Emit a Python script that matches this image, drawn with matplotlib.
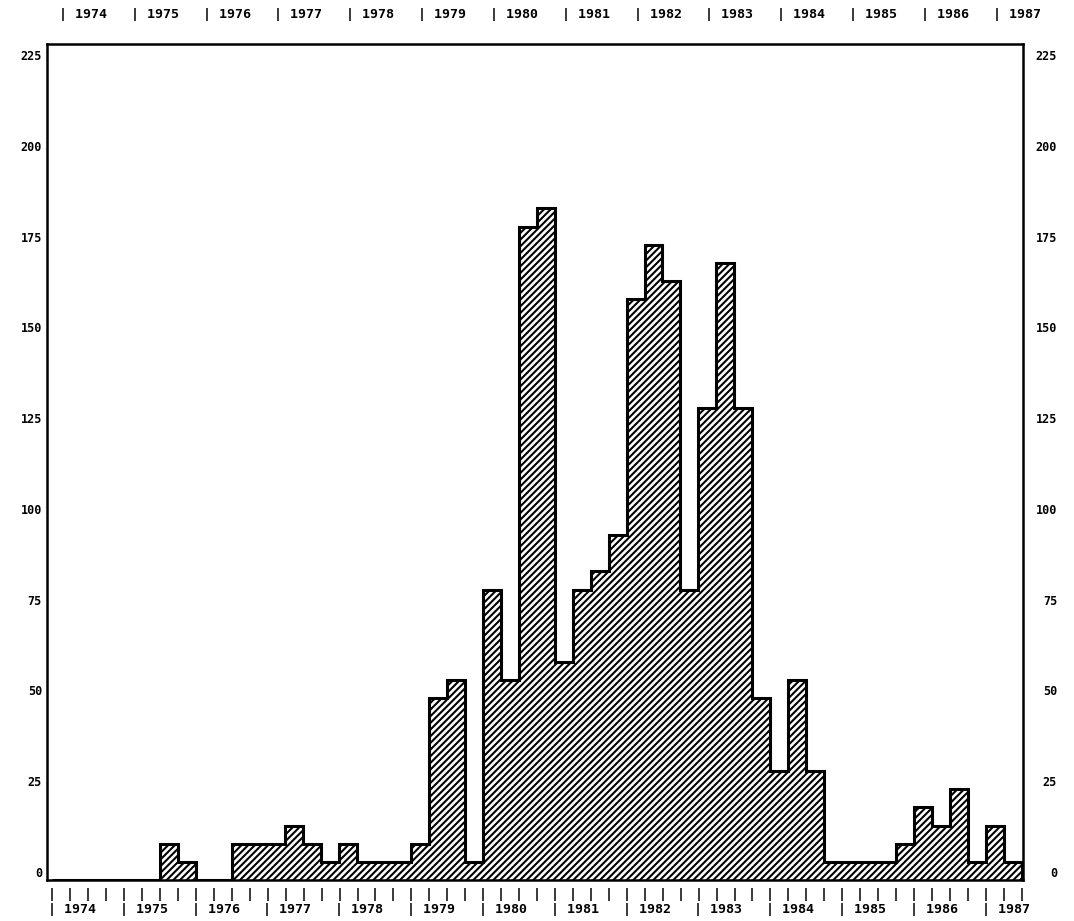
import numpy as np
import matplotlib
matplotlib.use("Agg")
import matplotlib.pyplot as plt
from matplotlib.transforms import ScaledTranslation

# Quarterly counts, 1974 Q1 through 1987 Q2
counts = [0, 0, 0, 0,          # 1974
          0, 0, 10, 5,         # 1975
          0, 0, 10, 10,        # 1976
          10, 15, 10, 5,       # 1977
          10, 5, 5, 5,         # 1978
          10, 50, 55, 5,       # 1979
          80, 55, 180, 185,    # 1980
          60, 80, 85, 95,      # 1981
          160, 175, 165, 80,   # 1982
          130, 170, 130, 50,   # 1983
          30, 55, 30, 5,       # 1984
          5, 5, 5, 10,         # 1985
          20, 15, 25, 5,       # 1986
          15, 5]               # 1987
years = list(range(1974, 1988))
y_ticks = [0, 25, 50, 75, 100, 125, 150, 175, 200, 225]

plt.rcParams["hatch.linewidth"] = 1.5
plt.rcParams["hatch.color"] = "black"
mono = {"family": "DejaVu Sans Mono", "weight": "bold"}

fig = plt.figure(figsize=(10.74, 9.21), dpi=100)
ax = fig.add_axes([47 / 1074, 41 / 921, (1023 - 47) / 1074, (880 - 44) / 921])

edges = years[0] + np.arange(len(counts) + 1) / 4.0
ax.stairs(counts, edges, fill=True, hatch="/////", facecolor="white",
          edgecolor="black", linewidth=2.2)

ax.set_xlim(1973.93, 1987.52)
ax.set_ylim(0, 230.3)

for s in ax.spines.values():
    s.set_linewidth(1.8)
    s.set_color("black")

# y axis: labels on both sides, sitting slightly above their levels
ax.set_yticks(y_ticks)
ax.set_yticklabels([str(v) for v in y_ticks])
ax.tick_params(axis="y", length=0, left=False, right=False,
               labelleft=True, labelright=True, labelsize=8.5)
ax.tick_params(axis="y", pad=3.6)
up = ScaledTranslation(0, 0.08, fig.dpi_scale_trans)
right_shift = ScaledTranslation(0.29, 0, fig.dpi_scale_trans)
for t in ax.yaxis.get_major_ticks():
    for lbl in (t.label1, t.label2):
        lbl.set_fontfamily(mono["family"])
        lbl.set_fontweight(mono["weight"])
    t.label1.set_transform(t.label1.get_transform() + up)
    t.label2.set_horizontalalignment("right")
    t.label2.set_transform(t.label2.get_transform() + up + right_shift)

# x axis: quarter marks, then year labels below and along the top
ax.xaxis.remove_overlapping_locs = False
ax.set_xticks(edges, ["|"] * len(edges), minor=True)
ax.set_xticks(years, ["| %d" % y for y in years])
ax.tick_params(axis="x", which="both", length=0, bottom=False, top=False)
ax.tick_params(axis="x", which="minor", labelbottom=True, labeltop=False,
               labelsize=9.5, pad=5.8)
ax.tick_params(axis="x", which="major", labelbottom=True, labeltop=True,
               labelsize=9.5, pad=16.5)

shift_bottom = ScaledTranslation(-0.04, 0, fig.dpi_scale_trans)
shift_top = ScaledTranslation(0.07, 0, fig.dpi_scale_trans)
for t in ax.xaxis.get_minor_ticks():
    t.label1.set_fontfamily(mono["family"])
    t.label1.set_fontweight(mono["weight"])
for t in ax.xaxis.get_major_ticks():
    for lbl in (t.label1, t.label2):
        lbl.set_fontfamily(mono["family"])
        lbl.set_fontweight(mono["weight"])
        lbl.set_horizontalalignment("left")
    t.label1.set_transform(t.label1.get_transform() + shift_bottom)
    t.label2.set_transform(t.label2.get_transform() + shift_top)

fig.savefig("out.png", dpi=100, facecolor="white")
